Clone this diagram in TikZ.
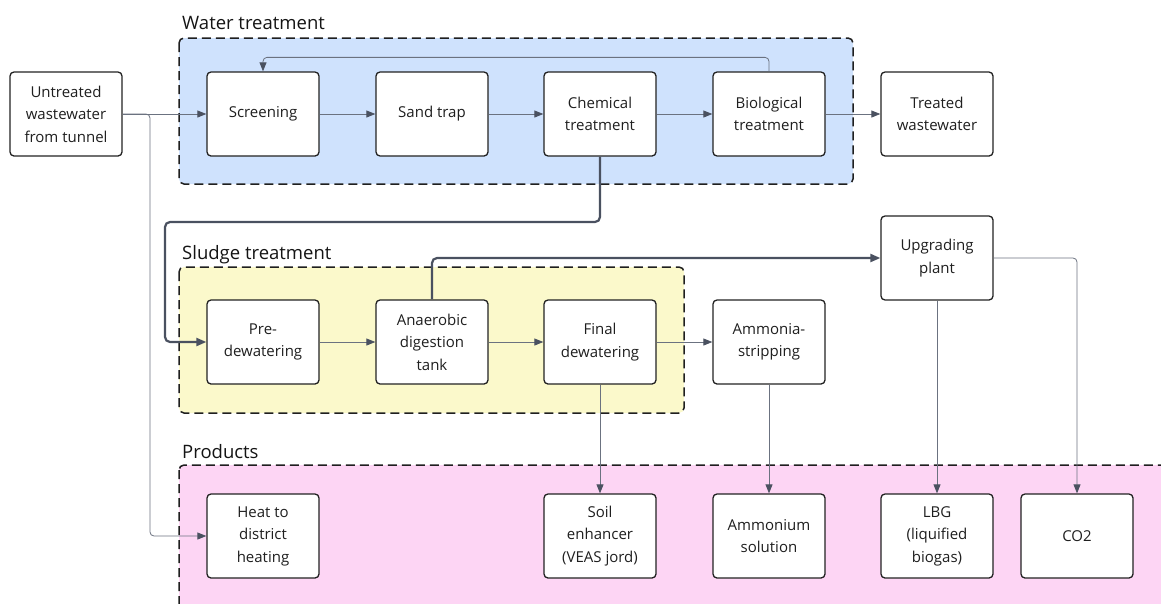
\documentclass[tikz,border=0pt]{standalone}
\usepackage{fontspec}
\setmainfont{Open Sans}
\usetikzlibrary{arrows.meta,calc}
\definecolor{bluefill}{HTML}{CFE2FD}
\definecolor{yellowfill}{HTML}{FBF9CB}
\definecolor{pinkfill}{HTML}{FDD5F4}
\definecolor{boxline}{HTML}{222222}
\definecolor{thinline}{HTML}{6B7280}
\definecolor{thickline}{HTML}{4A5160}
\definecolor{tipcol}{HTML}{4A5160}
\begin{document}
\begin{tikzpicture}[x=1pt,y=-1pt,
  procbox/.style={draw=boxline,line width=1.3pt,fill=white,rounded corners=4pt,
    minimum width=112pt,minimum height=84pt,inner sep=0pt,align=center,
    font=\fontsize{15}{22.5}\selectfont,text=black!88},
  groupbox/.style={draw=black!88,line width=1.5pt,dash pattern=on 9pt off 5pt,rounded corners=5pt},
  grouplabel/.style={anchor=base west,inner sep=0pt,font=\fontsize{18.5}{20}\selectfont,text=black!92},
  thinarrow/.style={draw=thinline,line width=0.8pt,rounded corners=4pt,-{Triangle[length=9pt,width=7pt,color=tipcol]}},
  thickarrow/.style={draw=thickline,line width=2.2pt,rounded corners=5pt,-{Triangle[length=10pt,width=8pt,color=tipcol]}}
]
\useasboundingbox (0,0) rectangle (1161,603);
\clip (0,0) rectangle (1161,603);

% groups
\draw[groupbox,fill=bluefill] (179,38) rectangle (853,184);
\node[grouplabel] (gwater) at (182,29) {Water treatment};
\draw[groupbox,fill=yellowfill] (179,267) rectangle (684,413);
\node[grouplabel] (gsludge) at (182,259) {Sludge treatment};
\draw[groupbox,fill=pinkfill] (179,465) rectangle (1175,620);
\node[grouplabel] (gprod) at (182,458) {Products};

% row 1
\node[procbox] (untr) at (66,114) {Untreated\\wastewater\\from tunnel};
\node[procbox] (scr) at (263,114) {Screening};
\node[procbox] (sand) at (432,114) {Sand trap};
\node[procbox] (chem) at (600,114) {Chemical\\treatment};
\node[procbox] (bio) at (769,114) {Biological\\treatment};
\node[procbox] (treat) at (937,114) {Treated\\wastewater};

% row 2
\node[procbox] (upg) at (937,258) {Upgrading\\plant};
\node[procbox] (pre) at (263,342) {Pre-\\dewatering};
\node[procbox] (anae) at (432,342) {Anaerobic\\digestion\\tank};
\node[procbox] (final) at (600,342) {Final\\dewatering};
\node[procbox] (ammo) at (769,342) {Ammonia-\\stripping};

% row 3
\node[procbox] (heat) at (263,536) {Heat to\\district\\heating};
\node[procbox] (soil) at (600,536) {Soil\\enhancer\\(VEAS jord)};
\node[procbox] (amsol) at (769,536) {Ammonium\\solution};
\node[procbox] (lbg) at (937,536) {LBG\\(liquified\\biogas)};
\node[procbox] (co2) at (1077,536) {CO2};

\coordinate (split) at (150,114);
\coordinate (chemturn) at (165,222);

% connectors
\draw[thinarrow] (untr.east) -- (scr.west);
\draw[thinarrow] (untr.east) -- (split) |- (heat.west);
\draw[thinarrow] (scr.east) -- (sand.west);
\draw[thinarrow] (sand.east) -- (chem.west);
\draw[thinarrow] (chem.east) -- (bio.west);
\draw[thinarrow] (bio.east) -- (treat.west);
\draw[thinarrow] (bio.north) -- ++(0,-14) -| (scr.north);

\draw[thickarrow] (chem.south) |- (chemturn) |- (pre.west);
\draw[thinarrow] (pre.east) -- (anae.west);
\draw[thinarrow] (anae.east) -- (final.west);
\draw[thinarrow] (final.east) -- (ammo.west);
\draw[thickarrow] (anae.north) |- (upg.west);

\draw[thinarrow] (upg.east) -| (co2.north);
\draw[thinarrow] (upg.south) -- (lbg.north);
\draw[thinarrow] (final.south) -- (soil.north);
\draw[thinarrow] (ammo.south) -- (amsol.north);
\end{tikzpicture}
\end{document}
